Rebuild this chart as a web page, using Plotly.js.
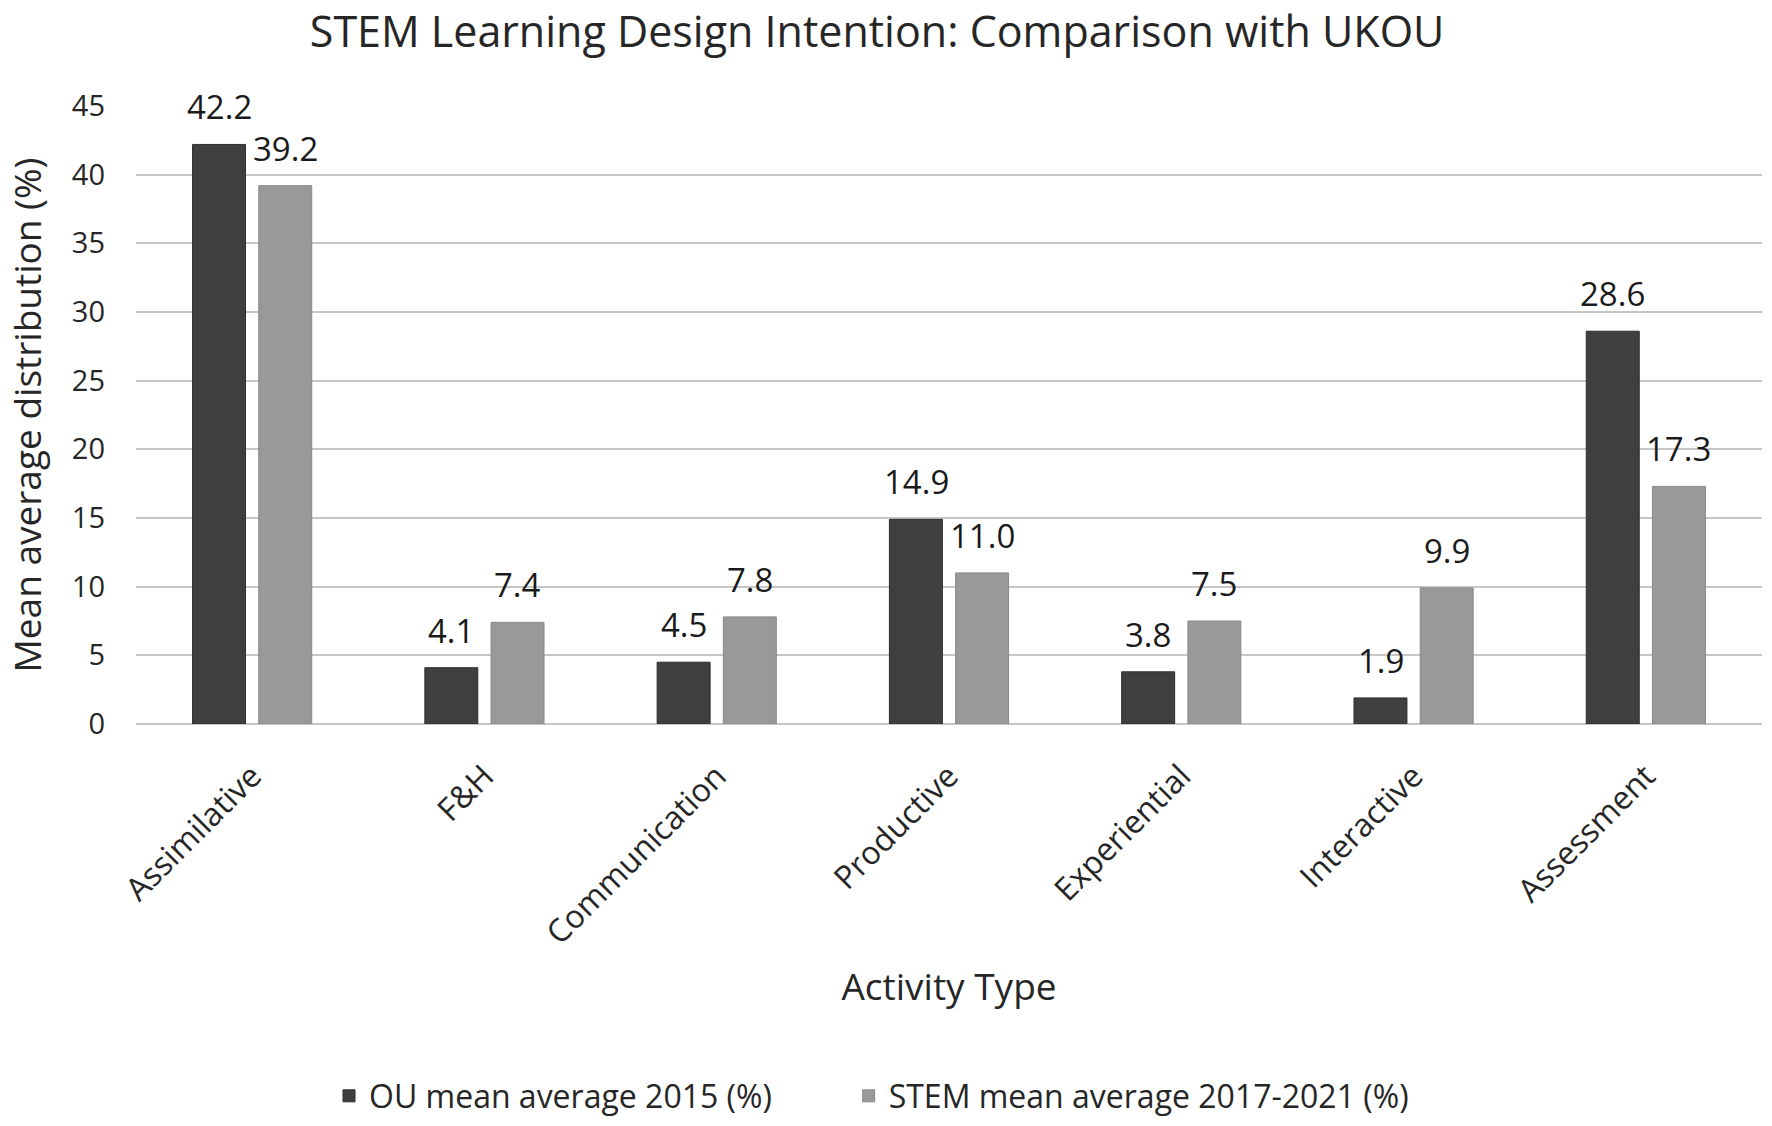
<!DOCTYPE html>
<html>
<head>
<meta charset="utf-8">
<script src="https://cdn.plot.ly/plotly-3.0.1.min.js"></script>
<style>html,body{margin:0;padding:0;background:#fff;}#chart{width:1772px;height:1126px;}</style>
</head>
<body>
<div id="chart"></div>
<script>
const categories = ["Assimilative", "F&H", "Communication", "Productive", "Experiential", "Interactive", "Assessment"];
const ou2015 = [42.2, 4.1, 4.5, 14.9, 3.8, 1.9, 28.6];
const stem2017_2021 = [39.2, 7.4, 7.8, 11.0, 7.5, 9.9, 17.3];
const seriesNames = ["OU mean average 2015 (%)", "STEM mean average 2017-2021 (%)"];
const yTicks = [0, 5, 10, 15, 20, 25, 30, 35, 40, 45];

const fontMain = "Open Sans, sans-serif";
const darkCol = "#3f3f3f", lightCol = "#999999";

const traces = [
  {type: "bar", name: seriesNames[0], x: categories, y: ou2015, legend: "legend",
   marker: {color: darkCol, line: {color: "#2e2e2e", width: 1}}, hoverinfo: "none"},
  {type: "bar", name: seriesNames[1], x: categories, y: stem2017_2021, legend: "legend2",
   marker: {color: lightCol, line: {color: "#888888", width: 1}}, hoverinfo: "none"}
];

const annotations = [];
const groupShift = 33;
[ou2015, stem2017_2021].forEach((arr, si) => {
  arr.forEach((v, i) => {
    annotations.push({x: categories[i], y: v, xref: "x", yref: "y", text: v.toFixed(1),
      showarrow: false, yanchor: "bottom", xshift: si === 0 ? -groupShift : groupShift, yshift: 13,
      font: {family: fontMain, size: 33, color: "#1a1a1a"}});
  });
});

const legendBase = {orientation: "h", y: -0.602, yanchor: "middle", xanchor: "left",
  font: {family: fontMain, size: 32, color: "#262626"}, itemwidth: 30, bgcolor: "rgba(0,0,0,0)"};

const layout = {
  width: 1772, height: 1126,
  paper_bgcolor: "#ffffff", plot_bgcolor: "#ffffff",
  margin: {l: 136, r: 10, t: 106, b: 402, autoexpand: false},
  title: {text: "STEM Learning Design Intention: Comparison with UKOU", x: 0.495, xanchor: "center",
          y: 0.9715, yanchor: "middle", font: {family: fontMain, size: 43, color: "#262626"}},
  barmode: "group", bargap: 0.43, bargroupgap: 0.2,
  showlegend: true,
  legend: Object.assign({}, legendBase, {x: 0.1187}),
  legend2: Object.assign({}, legendBase, {x: 0.4383}),
  xaxis: {type: "category", tickangle: -45, showgrid: false, showline: false, ticks: "",
          automargin: false, ticklabelstandoff: 26,
          tickfont: {family: fontMain, size: 32, color: "#262626"},
          title: {text: "Activity Type", font: {family: fontMain, size: 37, color: "#262626"}, standoff: 22}},
  yaxis: {range: [0, 45], tickvals: yTicks, showgrid: true, gridcolor: "#c6c6c6", gridwidth: 2,
          zeroline: true, zerolinecolor: "#c6c6c6", zerolinewidth: 2, showline: false, ticks: "",
          automargin: false, ticklabelstandoff: 30,
          tickfont: {family: fontMain, size: 29, color: "#262626"},
          title: {text: "Mean average distribution (%)", font: {family: fontMain, size: 37, color: "#262626"}, standoff: 18}},
  annotations: annotations
};

Plotly.newPlot("chart", traces, layout, {displayModeBar: false, staticPlot: true});
</script>
</body>
</html>
